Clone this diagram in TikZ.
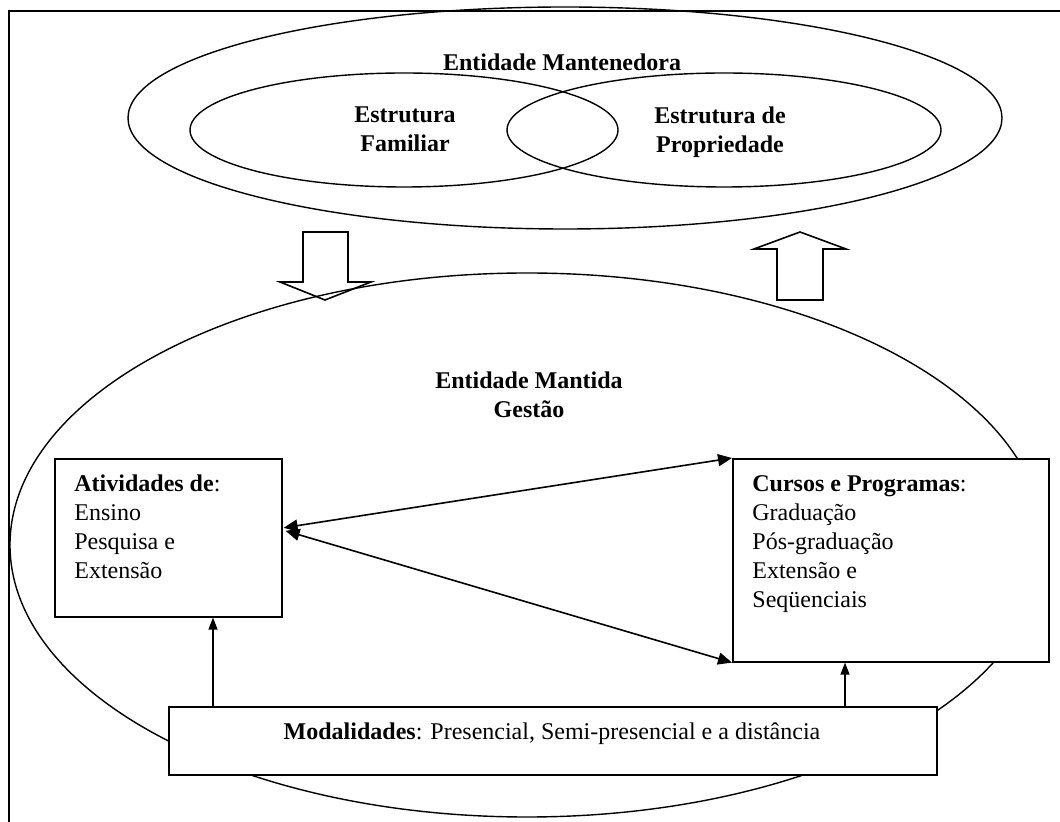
\documentclass[tikz,border=0pt]{standalone}
\usepackage{fontspec}
\setmainfont{Liberation Serif}
\usetikzlibrary{arrows.meta,shapes.geometric,calc}
\begin{document}
\begin{tikzpicture}[x=0.5pt,y=-0.5pt,
  txt/.style={inner sep=0pt,font=\fontsize{12}{14.5}\selectfont},
  ell/.style={draw,ellipse,inner sep=0pt,line width=0.7pt},
  boxnode/.style={draw,line width=0.8pt,fill=white,inner sep=0pt,anchor=north west},
  blockarrow/.style={draw,line width=0.8pt,line join=miter,fill=white},
  linkarrow/.style={line width=0.8pt,{Triangle[length=7pt,width=6pt]}-{Triangle[length=7pt,width=6pt]}},
  uparrow/.style={line width=0.6pt,-{Triangle[length=6pt,width=4.5pt]}}]
\useasboundingbox (0,0) rectangle (1060,822);
% frame
\draw[line width=1.4pt] (9,822) -- (9,11) -- (1060,11);
% top ellipses
\node[ell,minimum width=437pt,minimum height=111pt] (mant) at (565,118) {};
\node[ell,minimum width=214pt,minimum height=57pt] (fam) at (404,130) {};
\node[ell,minimum width=217pt,minimum height=57pt] (prop) at (724,130) {};
\node[txt,font=\fontsize{12}{14.5}\selectfont\bfseries,anchor=base] (tmant) at (562,71) {Entidade Mantenedora};
\node[txt,font=\fontsize{12}{14.5}\selectfont\bfseries,align=center,anchor=north] (tfam) at (405,106) {Estrutura\\Familiar};
\node[txt,font=\fontsize{12}{14.5}\selectfont\bfseries,align=center,anchor=north] (tprop) at (720,106) {Estrutura de\\Propriedade};
% block arrows
\draw[blockarrow] (303,232) -- (348,232) -- (348,282) -- (371,282) -- (325,300) -- (280,282) -- (303,282) -- cycle;
\draw[blockarrow] (777,300) -- (823,300) -- (823,249) -- (846,249) -- (800,232) -- (754,249) -- (777,249) -- cycle;
% lower ellipse
\node[ell,minimum width=517pt,minimum height=272pt] (mantida) at (527,545) {};
\node[txt,font=\fontsize{12}{14.5}\selectfont\bfseries,align=center,anchor=north] (tmantida) at (529,371) {Entidade Mantida\\Gestão};
% boxes
\node[boxnode,minimum width=113.5pt,minimum height=79pt] (act) at (54,458) {};
\node[txt,align=left,anchor=north west] (tact) at (74,474) {\textbf{Atividades de}:\\Ensino\\Pesquisa e\\Extensão};
\node[boxnode,minimum width=158pt,minimum height=101.5pt] (cur) at (732,458) {};
\node[txt,align=left,anchor=north west] (tcur) at (752,475) {\textbf{Cursos e Programas}:\\Graduação\\Pós-graduação\\Extensão e\\Seqüenciais};
\node[boxnode,minimum width=384pt,minimum height=34pt] (mod) at (168,706) {};
\node[txt,anchor=base] (tmod) at (552,740) {\textbf{Modalidades}: Presencial, Semi-presencial e a distância};
% connectors
\draw[linkarrow] ($(act.east)+(1,-10)$) -- (cur.north west);
\draw[linkarrow] ($(act.east)+(3,-7)$) -- (cur.south west);
\coordinate (m1) at ($(mod.north west)+(45,0)$);
\coordinate (m2) at ($(mod.north west)+(677,0)$);
\draw[uparrow] (m1) -- (m1 |- act.south);
\draw[uparrow] (m2) -- (m2 |- cur.south);
\end{tikzpicture}
\end{document}
